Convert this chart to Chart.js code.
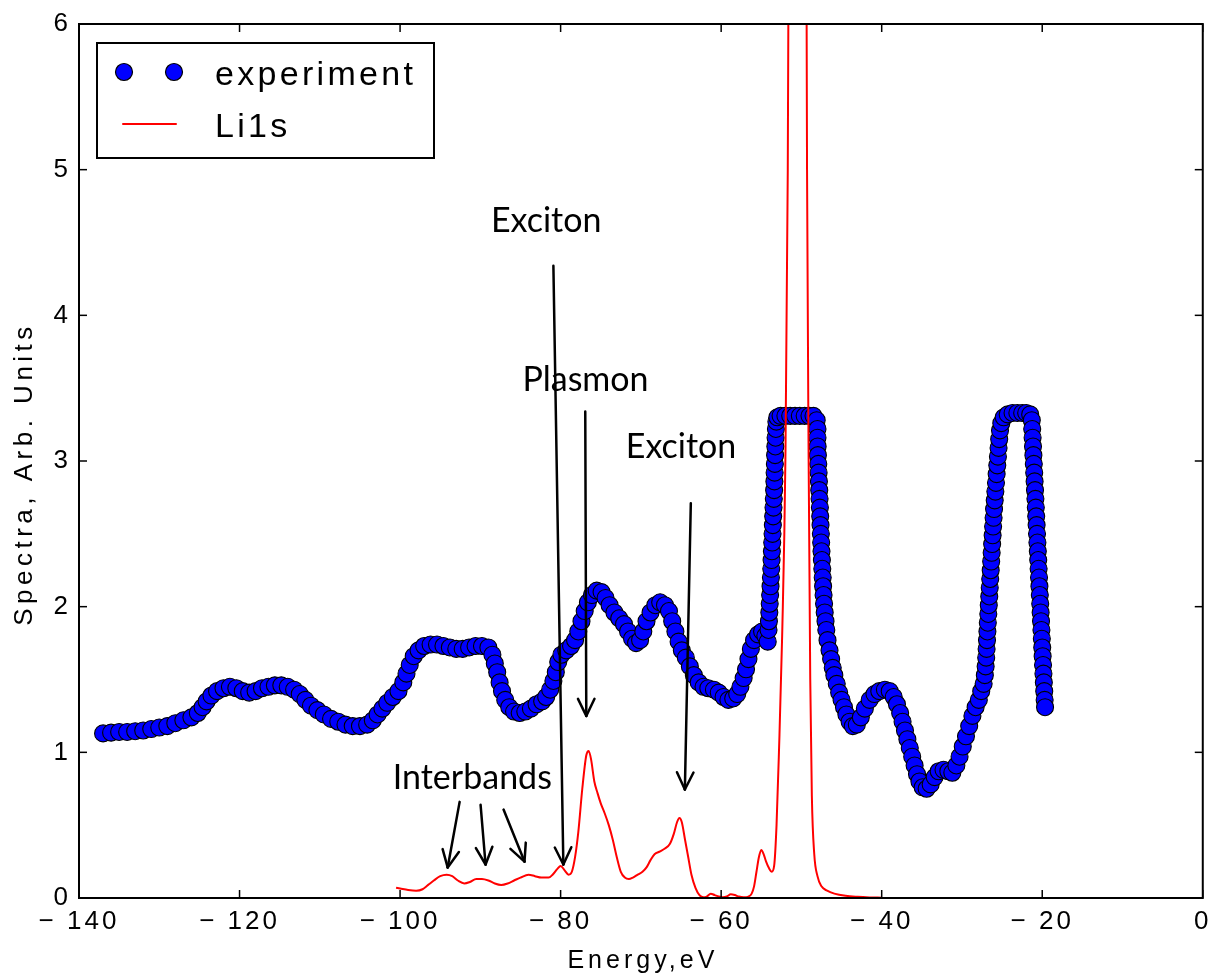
<!DOCTYPE html>
<html>
<head>
<meta charset="utf-8">
<script src="https://cdn.jsdelivr.net/npm/chart.js@4.4.1/dist/chart.umd.min.js"></script>
<style>
  html, body { margin: 0; padding: 0; background: #fff; }
  #wrap { width: 1218px; height: 979px; position: relative; }
</style>
</head>
<body>
<div id="wrap"><canvas id="chart"></canvas></div>
<script>
// energy (eV), spectrum (arb. units)
const experimentPts = [
  [-137.0,1.13],[-136.0,1.135],[-135.0,1.14],[-134.0,1.14],[-133.0,1.145],[-132.0,1.15],[-131.0,1.16],[-130.0,1.17],
  [-129.0,1.18],[-128.0,1.20],[-127.0,1.22],[-126.0,1.24],[-125.2,1.27],[-124.6,1.31],[-124.1,1.35],[-123.5,1.39],
  [-122.8,1.42],[-122.0,1.44],[-121.2,1.45],[-120.4,1.44],[-119.6,1.42],[-118.8,1.41],[-118.0,1.42],[-117.2,1.44],
  [-116.4,1.45],[-115.6,1.46],[-114.8,1.46],[-114.0,1.45],[-113.2,1.43],[-112.5,1.40],[-111.8,1.36],[-111.1,1.32],
  [-110.3,1.29],[-109.5,1.26],[-108.6,1.23],[-107.7,1.21],[-106.8,1.19],[-105.9,1.18],[-105.0,1.18],[-104.1,1.19],
  [-103.4,1.22],[-102.8,1.26],[-102.2,1.30],[-101.6,1.34],[-100.9,1.38],[-100.2,1.42],[-99.6,1.48],[-99.2,1.54],
  [-98.8,1.60],[-98.3,1.66],[-97.7,1.70],[-97.0,1.73],[-96.2,1.74],[-95.4,1.74],[-94.6,1.73],[-93.8,1.72],
  [-93.0,1.71],[-92.2,1.71],[-91.4,1.72],[-90.6,1.73],[-89.8,1.73],[-89.0,1.72],[-88.5,1.67],[-88.2,1.61],
  [-87.9,1.55],[-87.6,1.48],[-87.3,1.42],[-86.9,1.36],[-86.4,1.31],[-85.8,1.28],[-85.1,1.27],[-84.4,1.28],
  [-83.7,1.30],[-83.0,1.33],[-82.3,1.35],[-81.8,1.38],[-81.3,1.43],[-80.9,1.49],[-80.6,1.55],[-80.3,1.62],
  [-79.9,1.67],[-79.3,1.70],[-78.7,1.73],[-78.2,1.77],[-77.8,1.83],[-77.4,1.90],[-77.0,1.97],[-76.6,2.03],
  [-76.1,2.08],[-75.5,2.11],[-74.9,2.10],[-74.4,2.06],[-73.9,2.01],[-73.3,1.96],[-72.7,1.92],[-72.1,1.88],
  [-71.6,1.83],[-71.1,1.78],[-70.6,1.75],[-70.1,1.77],[-69.7,1.83],[-69.3,1.90],[-68.8,1.96],[-68.2,2.01],
  [-67.6,2.03],[-67.0,2.01],[-66.5,1.97],[-66.1,1.90],[-65.7,1.83],[-65.3,1.76],[-64.9,1.70],[-64.4,1.65],
  [-63.9,1.59],[-63.4,1.53],[-62.8,1.48],[-62.2,1.45],[-61.6,1.44],[-60.9,1.43],[-60.3,1.41],[-59.7,1.38],
  [-59.1,1.36],[-58.5,1.37],[-58.0,1.40],[-57.6,1.45],[-57.2,1.51],[-56.9,1.57],[-56.6,1.64],[-56.3,1.71],
  [-55.9,1.77],[-55.4,1.81],[-54.9,1.83],[-54.5,1.80],[-54.2,1.76],
  [-54.1,1.84],[-54.05,1.90],[-54.0,1.96],[-53.95,2.02],[-53.9,2.08],[-53.85,2.14],[-53.8,2.20],[-53.76,2.26],
  [-53.72,2.32],[-53.68,2.38],[-53.64,2.44],[-53.6,2.50],[-53.56,2.56],[-53.52,2.62],[-53.48,2.68],[-53.44,2.74],
  [-53.4,2.80],[-53.37,2.86],[-53.34,2.92],[-53.31,2.98],[-53.28,3.04],[-53.25,3.10],[-53.22,3.16],[-53.18,3.22],
  [-53.12,3.27],[-53.0,3.30],
  [-52.6,3.31],[-52.0,3.31],[-51.4,3.31],[-50.8,3.31],[-50.2,3.31],[-49.6,3.31],[-49.0,3.31],[-48.5,3.31],[-48.1,3.28],
  [-48.0,3.22],[-48.0,3.16],[-47.98,3.10],[-47.95,3.04],[-47.9,2.98],[-47.86,2.92],[-47.82,2.86],[-47.78,2.80],
  [-47.74,2.74],[-47.7,2.68],[-47.66,2.62],[-47.62,2.56],[-47.58,2.50],[-47.54,2.44],[-47.5,2.38],[-47.45,2.32],
  [-47.4,2.26],[-47.35,2.20],[-47.3,2.14],[-47.24,2.08],[-47.18,2.02],[-47.1,1.96],[-47.0,1.90],[-46.9,1.84],
  [-46.75,1.77],[-46.5,1.70],[-46.3,1.64],[-46.1,1.58],[-45.9,1.53],[-45.6,1.47],[-45.3,1.41],[-45.0,1.36],
  [-44.7,1.31],[-44.4,1.26],[-44.0,1.21],[-43.6,1.18],[-43.1,1.19],[-42.6,1.24],[-42.1,1.30],[-41.5,1.36],
  [-40.9,1.40],[-40.3,1.42],[-39.6,1.43],[-39.0,1.42],[-38.5,1.38],[-38.1,1.33],[-37.7,1.27],[-37.4,1.21],
  [-37.1,1.15],[-36.8,1.09],[-36.5,1.03],[-36.2,0.97],[-35.9,0.91],[-35.6,0.85],[-35.3,0.80],[-34.9,0.76],
  [-34.4,0.75],[-33.9,0.78],[-33.4,0.83],[-32.9,0.87],[-32.3,0.88],[-31.7,0.87],[-31.2,0.86],[-30.7,0.91],
  [-30.3,0.97],[-29.9,1.04],[-29.5,1.11],[-29.1,1.18],[-28.7,1.25],[-28.3,1.31],[-27.9,1.36],[-27.6,1.42],
  [-27.3,1.47],
  [-27.15,1.53],[-27.05,1.59],[-26.98,1.65],[-26.93,1.71],[-26.88,1.77],[-26.83,1.83],[-26.78,1.89],[-26.72,1.95],
  [-26.66,2.01],[-26.6,2.07],[-26.54,2.13],[-26.48,2.19],[-26.42,2.25],[-26.36,2.31],[-26.3,2.37],[-26.24,2.43],
  [-26.18,2.49],[-26.12,2.55],[-26.06,2.61],[-26.0,2.67],[-25.92,2.73],[-25.84,2.79],[-25.76,2.85],[-25.68,2.91],
  [-25.6,2.97],[-25.52,3.03],[-25.44,3.09],[-25.36,3.15],[-25.26,3.21],[-25.1,3.26],
  [-24.8,3.30],[-24.3,3.32],[-23.7,3.33],[-23.1,3.33],[-22.5,3.33],[-22.0,3.33],[-21.5,3.32],[-21.3,3.28],
  [-21.25,3.22],[-21.2,3.16],
  [-21.15,3.10],[-21.1,3.04],[-21.05,2.98],[-21.0,2.92],[-20.95,2.86],[-20.9,2.80],[-20.85,2.74],[-20.8,2.68],
  [-20.75,2.62],[-20.7,2.56],[-20.65,2.50],[-20.6,2.44],[-20.55,2.38],[-20.5,2.32],[-20.45,2.26],[-20.4,2.20],
  [-20.35,2.14],[-20.3,2.08],[-20.25,2.02],[-20.2,1.96],[-20.15,1.90],[-20.1,1.84],[-20.05,1.78],[-20.0,1.72],
  [-19.95,1.66],[-19.9,1.60],[-19.85,1.54],[-19.8,1.48],[-19.75,1.42],[-19.7,1.36],[-19.65,1.31]
];

const li1sPts = [
  [-100.5,0.07],[-100.0,0.065],[-99.0,0.055],[-98.0,0.05],[-97.2,0.06],[-96.5,0.09],[-95.8,0.12],[-95.0,0.15],
  [-94.2,0.16],[-93.5,0.15],[-92.8,0.12],[-92.0,0.10],[-91.3,0.11],[-90.5,0.13],[-89.8,0.13],[-89.0,0.12],
  [-88.2,0.10],[-87.4,0.09],[-86.6,0.10],[-85.8,0.12],[-85.0,0.14],[-84.0,0.16],[-83.2,0.15],[-82.4,0.14],
  [-81.5,0.14],[-81.0,0.16],[-80.4,0.20],[-80.0,0.22],[-79.5,0.19],[-79.0,0.16],[-78.6,0.18],[-78.2,0.28],
  [-77.8,0.45],[-77.3,0.75],[-76.8,0.98],[-76.5,1.01],[-76.2,0.95],[-75.8,0.80],[-75.4,0.72],[-75.0,0.65],
  [-74.5,0.58],[-74.0,0.50],[-73.5,0.40],[-73.0,0.28],[-72.5,0.18],[-72.0,0.14],[-71.5,0.13],[-71.0,0.14],
  [-70.4,0.16],[-69.8,0.18],[-69.3,0.21],[-68.8,0.26],[-68.3,0.30],[-67.6,0.32],[-67.0,0.34],[-66.4,0.37],
  [-65.9,0.44],[-65.5,0.52],[-65.2,0.55],[-64.9,0.52],[-64.5,0.40],[-64.1,0.28],[-63.7,0.16],[-63.2,0.07],
  [-62.7,0.02],[-62.2,0.005],[-61.8,0.01],[-61.3,0.03],[-60.8,0.02],[-60.3,0.01],[-59.8,0.005],[-59.3,0.01],
  [-58.8,0.025],[-58.3,0.02],[-57.8,0.01],[-57.2,0.005],[-56.6,0.01],[-56.2,0.03],[-55.9,0.08],[-55.6,0.18],
  [-55.3,0.28],[-55.0,0.33],[-54.7,0.30],[-54.4,0.25],[-54.0,0.20],[-53.7,0.18],[-53.4,0.22],[-53.1,0.50],
  [-52.8,1.00],[-52.4,1.80],[-52.0,3.00],[-51.7,5.00],[-51.5,8.00],[-51.2,12.0],[-50.5,15.0],[-49.8,12.0],
  [-49.45,8.00],[-49.3,5.00],[-49.1,3.00],[-48.9,1.50],[-48.7,0.70],[-48.4,0.30],[-48.0,0.15],[-47.5,0.08],
  [-46.8,0.05],[-45.9,0.03],[-44.5,0.015],[-43.0,0.008],[-41.5,0.004],[-40.0,0.002]
];

const seriesNames = ['experiment', 'Li1s'];
const xTickValues = [-140, -120, -100, -80, -60, -40, -20, 0];
const yTickValues = [0, 1, 2, 3, 4, 5, 6];
const axisTitles = { x: 'Energy,eV', y: 'Spectra, Arb. Units' };

// annotation labels: text, energy, level of baseline
const noteLabels = [
  ['Exciton', -81.8, 4.57],
  ['Plasmon', -76.9, 3.48],
  ['Exciton', -65.0, 3.02],
  ['Interbands', -91.0, 0.745]
];
// arrows: from (energy, level) to (energy, level)
const noteArrows = [
  [-80.9, 4.34, -79.66, 0.23],
  [-76.93, 3.34, -76.8, 1.25],
  [-63.78, 2.71, -64.52, 0.745],
  [-92.58, 0.66, -94.07, 0.21],
  [-89.97, 0.64, -89.35, 0.23],
  [-87.11, 0.607, -84.5, 0.25]
];

const BLUE = '#0000ff';
const RED = '#ff0000';
const TICK_FONT = '"Liberation Sans", Arial, sans-serif';

function line(ctx, x1, y1, x2, y2) {
  ctx.beginPath();
  ctx.moveTo(x1, y1);
  ctx.lineTo(x2, y2);
  ctx.stroke();
}

const decor = {
  id: 'decor',
  beforeDraw(chart) {
    chart.ctx.letterSpacing = '3px';
  },
  afterDraw(chart) {
    const { ctx, chartArea: a, scales: { x, y } } = chart;
    ctx.save();
    ctx.strokeStyle = '#000';
    ctx.fillStyle = '#000';

    // inward ticks on all four sides
    ctx.lineWidth = 1.5;
    xTickValues.forEach(v => {
      const px = x.getPixelForValue(v);
      line(ctx, px, a.bottom, px, a.bottom - 8);
      line(ctx, px, a.top, px, a.top + 8);
    });
    yTickValues.forEach(v => {
      const py = y.getPixelForValue(v);
      line(ctx, a.left, py, a.left + 8, py);
      line(ctx, a.right, py, a.right - 8, py);
    });

    // frame
    ctx.lineWidth = 2;
    ctx.strokeRect(a.left, a.top, a.right - a.left, a.bottom - a.top);

    // arrows
    ctx.lineWidth = 2.5;
    ctx.lineCap = 'round';
    noteArrows.forEach(([e1, v1, e2, v2]) => {
      const x1 = x.getPixelForValue(e1), y1 = y.getPixelForValue(v1);
      const x2 = x.getPixelForValue(e2), y2 = y.getPixelForValue(v2);
      line(ctx, x1, y1, x2, y2);
      const ang = Math.atan2(y2 - y1, x2 - x1);
      const len = 19, spread = 0.45;
      line(ctx, x2, y2, x2 - len * Math.cos(ang - spread), y2 - len * Math.sin(ang - spread));
      line(ctx, x2, y2, x2 - len * Math.cos(ang + spread), y2 - len * Math.sin(ang + spread));
    });

    // annotation text
    ctx.letterSpacing = '0px';
    ctx.font = '34px Lato, "Open Sans", sans-serif';
    ctx.textAlign = 'center';
    ctx.textBaseline = 'alphabetic';
    noteLabels.forEach(([t, e, v]) => {
      ctx.fillText(t, x.getPixelForValue(e), y.getPixelForValue(v));
    });

    // legend
    const lx = a.left + 18, ly = a.top + 19, lw = 337, lh = 115;
    ctx.fillStyle = '#fff';
    ctx.fillRect(lx, ly, lw, lh);
    ctx.lineWidth = 2;
    ctx.strokeRect(lx, ly, lw, lh);
    ctx.lineWidth = 1.2;
    [lx + 27, lx + 77].forEach(cx => {
      ctx.beginPath();
      ctx.arc(cx, ly + 29, 8.5, 0, Math.PI * 2);
      ctx.fillStyle = BLUE;
      ctx.fill();
      ctx.stroke();
    });
    ctx.strokeStyle = RED;
    ctx.lineWidth = 2;
    line(ctx, lx + 26, ly + 81, lx + 79, ly + 81);
    ctx.fillStyle = '#000';
    ctx.textAlign = 'left';
    ctx.letterSpacing = '3.3px';
    ctx.font = '34px ' + TICK_FONT;
    ctx.fillText(seriesNames[0], lx + 118, ly + 42);
    ctx.fillText(seriesNames[1], lx + 118, ly + 94);

    // axis titles
    ctx.font = '25px ' + TICK_FONT;
    ctx.letterSpacing = '4px';
    ctx.textAlign = 'center';
    ctx.textBaseline = 'middle';
    ctx.fillText(axisTitles.x, (a.left + a.right) / 2 + 2, 961);
    ctx.translate(25, (a.top + a.bottom) / 2 + 13);
    ctx.rotate(-Math.PI / 2);
    ctx.font = '26px ' + TICK_FONT;
    ctx.letterSpacing = '4.5px';
    ctx.fillText(axisTitles.y, 0, 0);
    ctx.restore();
  }
};

const tickFmt = v => (v < 0 ? '\u2212 ' + Math.abs(v) : String(v));

new Chart(document.getElementById('chart'), {
  type: 'scatter',
  data: {
    datasets: [
      {
        label: seriesNames[1],
        data: li1sPts.map(([e, v]) => ({ x: e, y: v })),
        showLine: true,
        borderColor: RED,
        borderWidth: 2,
        pointRadius: 0,
        cubicInterpolationMode: 'monotone',
        order: 1
      },
      {
        label: seriesNames[0],
        data: experimentPts.map(([e, v]) => ({ x: e, y: v })),
        showLine: false,
        backgroundColor: BLUE,
        borderColor: '#000',
        borderWidth: 1.1,
        pointRadius: 8.5,
        order: 2
      }
    ]
  },
  options: {
    responsive: true,
    maintainAspectRatio: false,
    animation: false,
    layout: { padding: { left: 0, top: 24, right: 11, bottom: 0 } },
    plugins: { legend: { display: false }, tooltip: { enabled: false } },
    scales: {
      x: {
        type: 'linear',
        min: -140,
        max: 0,
        grid: { display: false, drawTicks: false },
        border: { display: false },
        afterFit: s => { s.height = 81; },
        afterBuildTicks: s => { s.ticks = xTickValues.map(v => ({ value: v })); },
        ticks: {
          color: '#000',
          font: { family: TICK_FONT, size: 26 },
          padding: 8,
          maxRotation: 0,
          autoSkip: false,
          callback: tickFmt
        }
      },
      y: {
        type: 'linear',
        min: 0,
        max: 6,
        grid: { display: false, drawTicks: false },
        border: { display: false },
        afterFit: s => { s.width = 79; },
        afterBuildTicks: s => { s.ticks = yTickValues.map(v => ({ value: v })); },
        ticks: {
          color: '#000',
          font: { family: TICK_FONT, size: 26 },
          padding: 8,
          callback: tickFmt
        }
      }
    }
  },
  plugins: [decor]
});
</script>
</body>
</html>
